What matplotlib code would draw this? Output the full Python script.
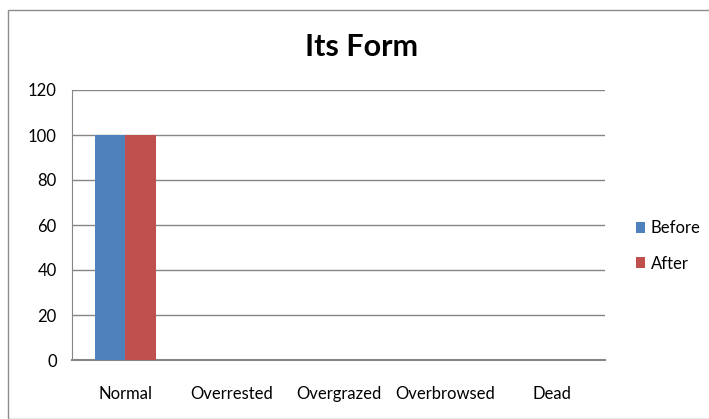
import numpy as np
import matplotlib.pyplot as plt
from matplotlib.patches import Rectangle

categories = ['Normal', 'Overrested', 'Overgrazed', 'Overbrowsed', 'Dead']
before = [100, 0, 0, 0, 0]
after = [100, 0, 0, 0, 0]
y_ticks = [0, 20, 40, 60, 80, 100, 120]

plt.rcParams['font.family'] = ['Lato', 'DejaVu Sans']

W, H = 709, 419
fig = plt.figure(figsize=(W / 100, H / 100), dpi=100)

# outer chart border (Excel style)
fig.patches.append(Rectangle((8 / W, 0), 1.2, 1 - 10 / H, transform=fig.transFigure,
                             fill=False, edgecolor='#8c8c8c', linewidth=1.0))

ax = fig.add_axes([72 / W, 1 - 360 / H, (605 - 72) / W, (360 - 90) / H])

x = np.arange(len(categories))
bw = 0.2857
ax.bar(x - bw / 2, before, width=bw, color='#4F81BD', label='Before', zorder=3)
ax.bar(x + bw / 2, after, width=bw, color='#C0504D', label='After', zorder=3)

ax.set_xlim(-0.5, len(categories) - 0.5)
ax.set_ylim(0, 120)
ax.set_yticks(y_ticks)
ax.yaxis.grid(True, color='#868686', linewidth=1.0, zorder=0)
ax.set_axisbelow(True)

for s in ['top', 'right']:
    ax.spines[s].set_visible(False)
ax.spines['left'].set_color('#868686')
ax.spines['bottom'].set_color('#868686')
ax.spines['bottom'].set_linewidth(1.5)

ax.set_xticks(x)
ax.set_xticklabels(categories, fontsize=12)
ax.tick_params(axis='x', length=0, pad=19)
ax.tick_params(axis='y', length=0, pad=11, labelsize=12)

fig.text(362 / W, 1 - 47 / H, 'Its Form', ha='center', va='center',
         fontsize=22, fontweight='bold')

ax.legend(loc='center left', bbox_to_anchor=(636 / W, 1 - 246 / H),
          bbox_transform=fig.transFigure, frameon=False,
          fontsize=12, handlelength=0.55, handleheight=0.65,
          handletextpad=0.35, labelspacing=1.15, borderpad=0, borderaxespad=0)

fig.savefig('out.png', dpi=100)
